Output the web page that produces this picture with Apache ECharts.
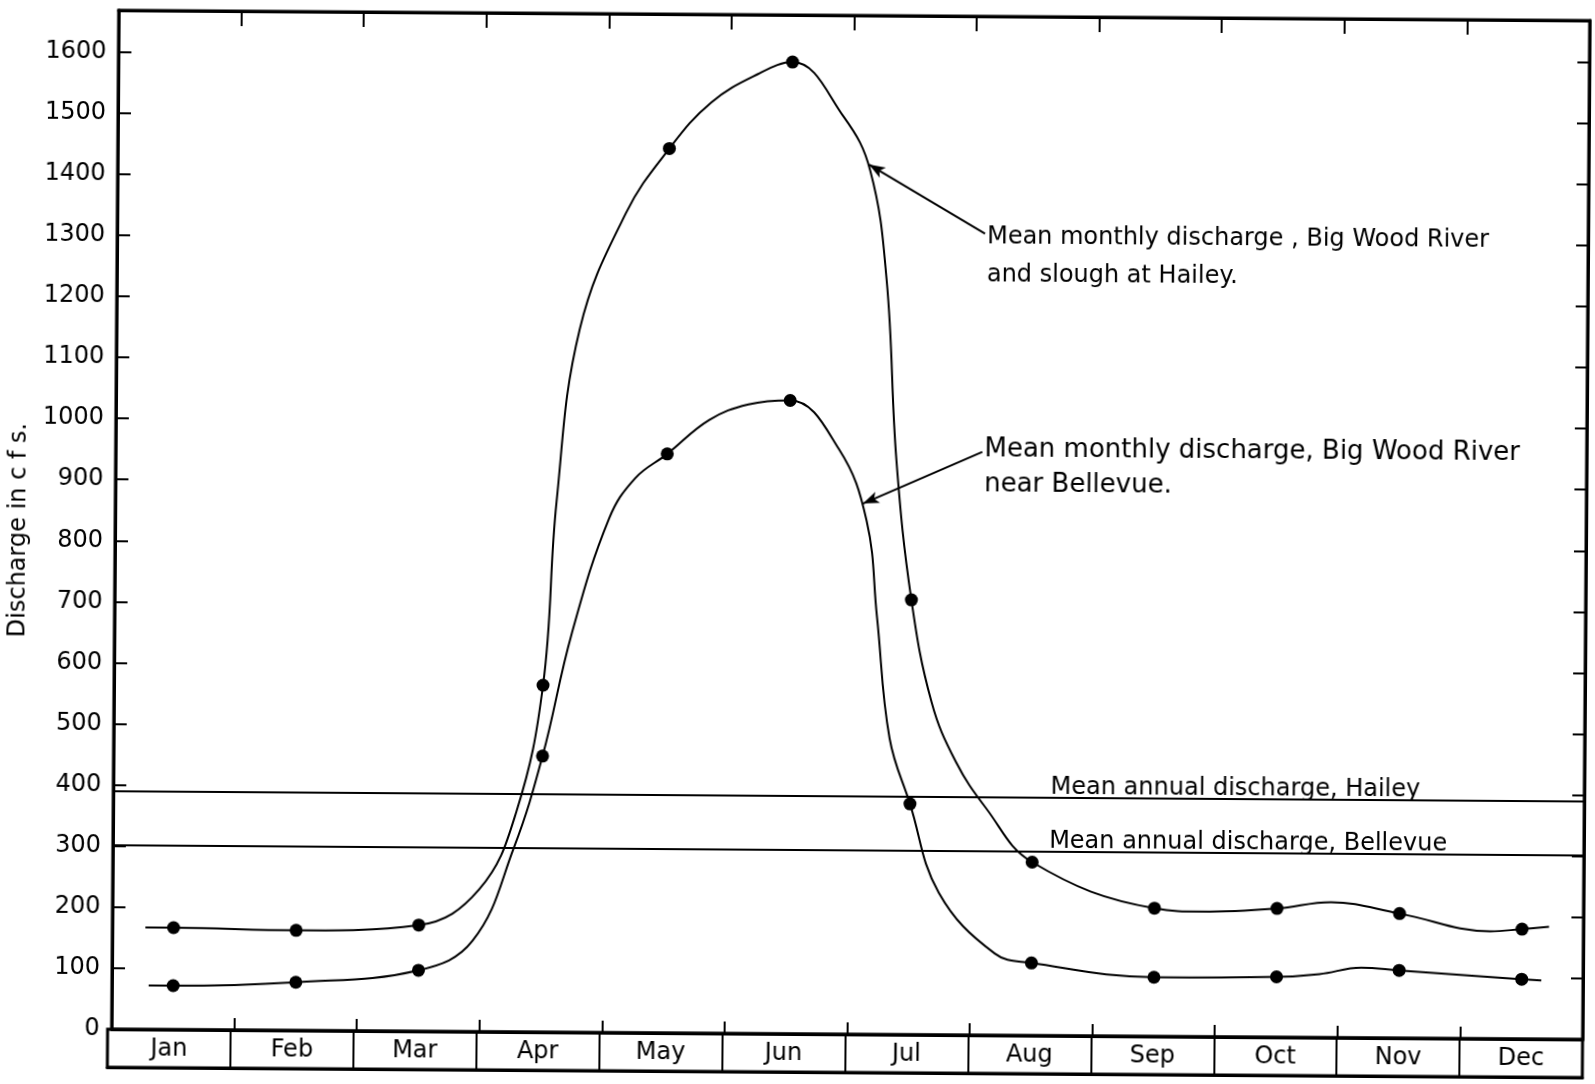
<!DOCTYPE html>
<html><head><meta charset="utf-8">
<script src="https://cdn.jsdelivr.net/npm/echarts@6/dist/echarts.min.js"></script>
<style>
html,body{margin:0;padding:0;background:#fff;overflow:hidden}
#c{width:1595px;height:1084px;transform:translate(-1px,4px) rotate(0.4deg);transform-origin:50% 50%}
</style>
</head><body><div id="c"></div>
<script>
// ---- data ----
const months = ['Jan','Feb','Mar','Apr','May','Jun','Jul','Aug','Sep','Oct','Nov','Dec'];
// plotted monthly means (dots), cfs
const haileyCfs   = [167, 164, 174, 568, 1448, 1591, 712, 284, 210, 211, 204, 180];
const bellevueCfs = [72, 79, 100, 452, 948, 1037, 378, 119, 97, 99, 111, 98];
// extra points (no dot): [month position, cfs]
const haileyCurveTrace = [
  [0.27, 167], [2.99, 233], [3.29, 361], [3.60, 869], [3.78, 1152], [4.15, 1342],
  [4.84, 1524], [5.22, 1571], [5.92, 1502], [6.14, 1414], [6.28, 1235], [6.37, 940],
  [6.67, 545], [6.87, 448], [7.12, 372], [8.89, 205], [9.94, 222], [11.24, 176], [11.72, 184]
];
const bellevueCurveTrace = [
  [0.30, 72], [2.94, 149], [3.27, 301], [3.73, 652], [4.03, 842], [4.24, 908],
  [4.84, 1004], [5.16, 1030], [5.90, 958], [6.13, 841], [6.22, 684], [6.33, 485],
  [6.74, 233], [7.20, 134], [9.85, 104], [10.19, 115], [11.66, 96]
];
const meanAnnualHailey = 390;
const meanAnnualBellevue = 302;
const yTickStep = 100;
const yTopLabel = 1600;

const FONT = '"DejaVu Sans", sans-serif';
const BLACK = '#000';

function curve(vals, trace) {
  const dots = vals.map((v, i) => ({value: [i + 0.5, v]}));
  const line = trace.map(p => ({value: p, symbol: 'none'}));
  return dots.concat(line).sort((a, b) => a.value[0] - b.value[0]);
}

const chart = echarts.init(document.getElementById('c'), null, {renderer: 'canvas'});

const lineStyle = {color: BLACK, width: 2};
const noZero = {show: true, onZero: false, lineStyle: {color: BLACK, width: 3}};
const option = {
  animation: false,
  backgroundColor: '#fff',
  grid: [
    {left: 112, right: 8, top: 11, bottom: 54, show: true, borderColor: BLACK, borderWidth: 3, backgroundColor: 'transparent'},
    {left: 112, right: 8, top: 1030, height: 38, show: true, borderColor: BLACK, borderWidth: 3, backgroundColor: 'transparent'}
  ],
  xAxis: [
    {type: 'value', gridIndex: 0, min: 0, max: 12, interval: 1, position: 'bottom',
     axisLine: noZero,
     axisTick: {show: true, inside: true, length: 12, lineStyle: {color: BLACK, width: 2}},
     axisLabel: {show: false}, splitLine: {show: false}},
    {type: 'value', gridIndex: 0, min: 0, max: 12, interval: 1, position: 'top',
     axisLine: noZero,
     axisTick: {show: true, inside: true, length: 15, lineStyle: {color: BLACK, width: 2}},
     axisLabel: {show: false}, splitLine: {show: false}},
    {type: 'category', gridIndex: 1, data: months, boundaryGap: true, position: 'bottom',
     axisLine: noZero,
     axisTick: {show: false},
     splitLine: {show: true, interval: 0, lineStyle: {color: BLACK, width: 2}},
     axisLabel: {show: true, inside: true, interval: 0, margin: 6, color: BLACK, fontSize: 24, fontFamily: FONT}}
  ],
  yAxis: [
    {type: 'value', gridIndex: 0, min: 0, max: 1668, interval: yTickStep, position: 'left',
     name: 'Discharge in c f s.', nameLocation: 'middle', nameGap: 80, nameRotate: 90,
     nameTextStyle: {color: BLACK, fontSize: 24, fontFamily: FONT, padding: [0, 22, 0, 0]},
     axisLine: noZero,
     axisTick: {show: true, inside: true, length: 13, lineStyle: {color: BLACK, width: 2}},
     axisLabel: {show: true, margin: 12, color: BLACK, fontSize: 24, fontFamily: FONT,
       formatter: v => (v % yTickStep === 0 && v <= yTopLabel) ? String(v) : ''},
     splitLine: {show: false}},
    {type: 'value', gridIndex: 0, min: 0, max: 1668, interval: yTickStep, position: 'right',
     axisLine: noZero,
     axisTick: {show: true, inside: true, length: 12, lineStyle: {color: BLACK, width: 2}},
     axisLabel: {show: false}, splitLine: {show: false}},
    {type: 'value', gridIndex: 1, show: false, min: 0, max: 1}
  ],
  series: [
    {
      name: 'Hailey', type: 'line', xAxisIndex: 0, yAxisIndex: 0,
      data: curve(haileyCfs, haileyCurveTrace), smooth: 0.4,
      symbol: 'circle', symbolSize: 13, itemStyle: {color: BLACK}, lineStyle: lineStyle,
      markLine: {
        silent: true, symbol: 'none', lineStyle: {color: BLACK, width: 2, type: 'solid'},
        label: {show: false},
        data: [
          {yAxis: meanAnnualHailey},
          {yAxis: meanAnnualBellevue},
          [{coord: [7.08, 1312], symbol: 'none'}, {coord: [6.13, 1424], symbol: 'arrow', symbolSize: [9, 16]}]
        ]
      },
      markPoint: {
        silent: true, symbol: 'circle', symbolSize: 0.1, itemStyle: {color: 'rgba(0,0,0,0)'},
        label: {show: true, position: 'right', distance: 2, color: BLACK, fontFamily: FONT},
        data: [
          {coord: [7.08, 1312], label: {formatter: 'Mean monthly discharge , Big Wood River\nand slough at Hailey.', fontSize: 24, lineHeight: 38, offset: [0, 22]}},
          {coord: [7.63, meanAnnualHailey], label: {formatter: 'Mean annual discharge, Hailey', fontSize: 24, offset: [0, -10]}},
          {coord: [7.62, meanAnnualBellevue], label: {formatter: 'Mean annual discharge, Bellevue', fontSize: 24, offset: [0, -10]}}
        ]
      }
    },
    {
      name: 'Bellevue', type: 'line', xAxisIndex: 0, yAxisIndex: 0,
      data: curve(bellevueCfs, bellevueCurveTrace), smooth: 0.4,
      symbol: 'circle', symbolSize: 13, itemStyle: {color: BLACK}, lineStyle: lineStyle,
      markLine: {
        silent: true, symbol: 'none', lineStyle: {color: BLACK, width: 2, type: 'solid'},
        label: {show: false},
        data: [
          [{coord: [7.07, 955], symbol: 'none'}, {coord: [6.10, 869], symbol: 'arrow', symbolSize: [9, 16]}]
        ]
      },
      markPoint: {
        silent: true, symbol: 'circle', symbolSize: 0.1, itemStyle: {color: 'rgba(0,0,0,0)'},
        label: {show: true, position: 'right', distance: 2, color: BLACK, fontFamily: FONT},
        data: [
          {coord: [7.07, 955], label: {formatter: 'Mean monthly discharge, Big Wood River\nnear Bellevue.', fontSize: 26, lineHeight: 35, offset: [0, 15]}}
        ]
      }
    },
    {type: 'line', xAxisIndex: 2, yAxisIndex: 2, data: [], silent: true}
  ]
};
chart.setOption(option);
</script>
</body></html>
